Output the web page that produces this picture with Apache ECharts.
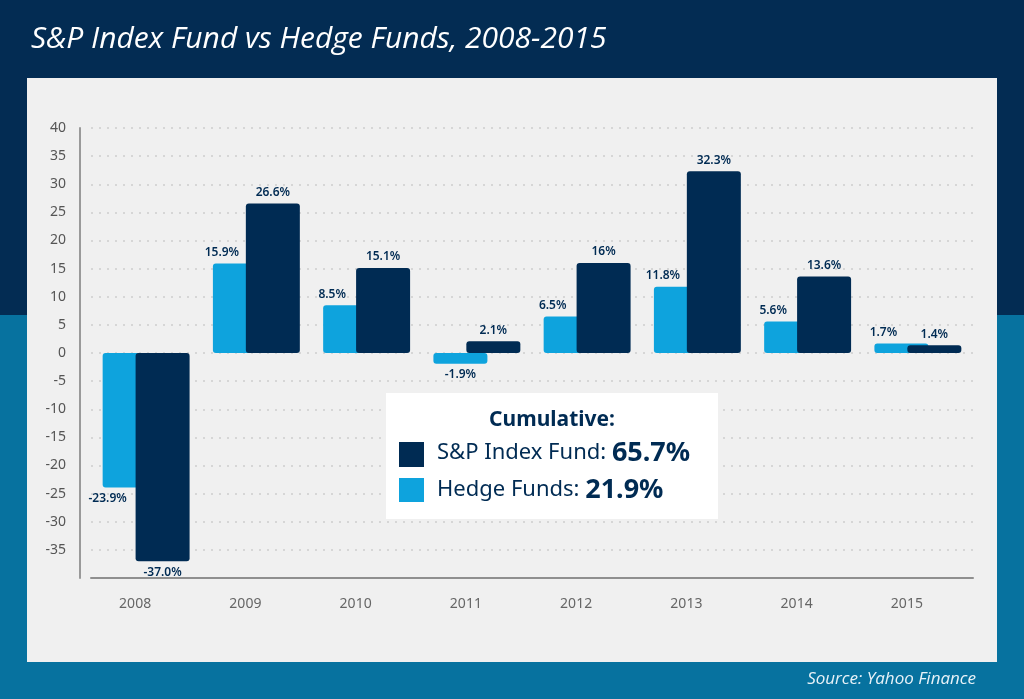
<!DOCTYPE html>
<html>
<head>
<meta charset="utf-8">
<script src="https://cdn.jsdelivr.net/npm/echarts@6/dist/echarts.min.js"></script>
<style>
html,body{margin:0;padding:0;background:#032c53;}
#chart{width:1024px;height:699px;}
</style>
</head>
<body>
<div id="chart"></div>
<script>
const years = ['2008','2009','2010','2011','2012','2013','2014','2015'];
const hedgeFunds = [-23.9, 15.9, 8.5, -1.9, 6.5, 11.8, 5.6, 1.7];
const spIndex = [-37.0, 26.6, 15.1, 2.1, 16, 32.3, 13.6, 1.4];
const hedgeLabels = ['-23.9%','15.9%','8.5%','-1.9%','6.5%','11.8%','5.6%','1.7%'];
const spLabels = ['-37.0%','26.6%','15.1%','2.1%','16%','32.3%','13.6%','1.4%'];
const yTicks = [40,35,30,25,20,15,10,5,0,-5,-10,-15,-20,-25,-30,-35];
const cumulativeSP = '65.7%';
const cumulativeHedge = '21.9%';

const NAVY = '#002b53';
const LIGHT = '#0ea3dd';
const FONT = '"Noto Sans", "Open Sans", sans-serif';

const chart = echarts.init(document.getElementById('chart'));

const hedgeData = hedgeFunds.map((v, i) => ({
  value: v,
  label: {
    formatter: hedgeLabels[i],
    offset: [i === 0 ? -22 : (v < 0 ? 0 : -18), 0]
  }
}));
const spData = spIndex.map((v, i) => ({
  value: v,
  label: { formatter: spLabels[i] }
}));

const labelStyle = {
  show: true,
  color: NAVY,
  fontFamily: FONT,
  fontSize: 12,
  fontWeight: 600,
  distance: 5
};

chart.setOption({
  backgroundColor: '#032c53',
  animation: false,
  title: [{
    text: 'S&P Index Fund vs Hedge Funds, 2008-2015',
    left: 26, top: 19,
    textStyle: { color: '#ffffff', fontFamily: '"Open Sans", sans-serif', fontStyle: 'italic', fontWeight: 'normal', fontSize: 30 }
  }, {
    text: 'Source: Yahoo Finance',
    right: 43, top: 666,
    textStyle: { color: '#e8f2f8', fontFamily: '"Open Sans", sans-serif', fontStyle: 'italic', fontWeight: 'normal', fontSize: 17 }
  }],
  grid: { left: 91, right: 51, top: 128, bottom: 121, containLabel: false },
  xAxis: {
    type: 'category',
    data: years,
    axisLine: { show: true, onZero: false, lineStyle: { color: '#8f8f8f', width: 2 } },
    axisTick: { show: false },
    axisLabel: { color: '#666666', fontFamily: FONT, fontSize: 14, margin: 19, padding: [0, 22, 0, 0] },
    splitLine: { show: false }
  },
  yAxis: {
    type: 'value',
    min: -40, max: 40, interval: 5,
    offset: 11,
    axisLine: { show: true, lineStyle: { color: '#9a9a9a', width: 2 } },
    axisTick: { show: false },
    axisLabel: {
      color: '#555555', fontFamily: FONT, fontSize: 14, margin: 14,
      formatter: v => (yTicks.indexOf(v) >= 0 ? String(v) : '')
    },
    splitLine: { show: true, lineStyle: { color: '#cdcdcd', type: [2, 6], width: 1.5 } }
  },
  graphic: [
    { type: 'rect', z: -100, silent: true, shape: { x: 0, y: 315, width: 1024, height: 384 }, style: { fill: '#07729f' } },
    { type: 'rect', z: -90, silent: true, shape: { x: 27, y: 78, width: 970, height: 584 }, style: { fill: '#f0f0f0' } },
    { type: 'rect', z: 100, shape: { x: 386, y: 393, width: 332, height: 126 }, style: { fill: '#ffffff' } },
    { type: 'text', z: 101, x: 552, y: 420, style: { text: 'Cumulative:', fill: NAVY, font: 'bold 21px "Noto Sans", sans-serif', textAlign: 'center', textVerticalAlign: 'middle' } },
    { type: 'rect', z: 101, shape: { x: 399, y: 442, width: 25, height: 25 }, style: { fill: NAVY } },
    { type: 'rect', z: 101, shape: { x: 399, y: 478, width: 25, height: 24 }, style: { fill: LIGHT } },
    { type: 'text', z: 101, x: 437, y: 453, style: {
      text: '{a|S&P Index Fund: }{b|' + cumulativeSP + '}',
      rich: { a: { fill: NAVY, fontSize: 22, fontFamily: FONT }, b: { fill: NAVY, fontSize: 27, fontWeight: 'bold', fontFamily: FONT } },
      textVerticalAlign: 'middle'
    } },
    { type: 'text', z: 101, x: 437, y: 490, style: {
      text: '{a|Hedge Funds: }{b|' + cumulativeHedge + '}',
      rich: { a: { fill: NAVY, fontSize: 22, fontFamily: FONT }, b: { fill: NAVY, fontSize: 27, fontWeight: 'bold', fontFamily: FONT } },
      textVerticalAlign: 'middle'
    } }
  ],
  series: [{
    name: 'Hedge Funds',
    type: 'bar',
    data: hedgeData,
    barWidth: 54,
    barGap: '-39%',
    itemStyle: { color: LIGHT, borderRadius: 3 },
    label: Object.assign({ position: 'outside' }, labelStyle)
  }, {
    name: 'S&P Index Fund',
    type: 'bar',
    data: spData,
    barWidth: 54,
    barGap: '-39%',
    itemStyle: { color: NAVY, borderRadius: 3 },
    label: Object.assign({ position: 'outside' }, labelStyle)
  }]
});
</script>
</body>
</html>
